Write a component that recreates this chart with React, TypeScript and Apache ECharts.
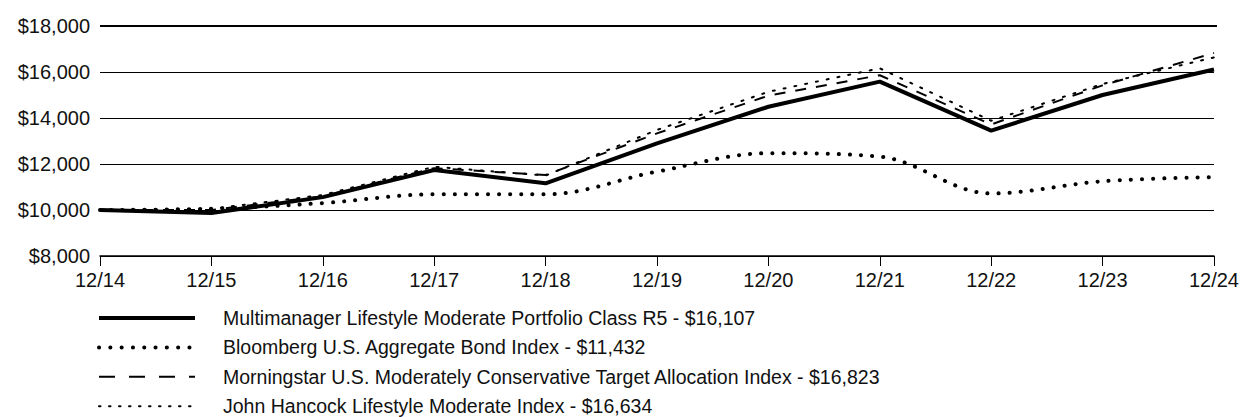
import React, { useEffect, useRef } from "react";
import * as echarts from "echarts";

const categories = ["12/14", "12/15", "12/16", "12/17", "12/18", "12/19", "12/20", "12/21", "12/22", "12/23", "12/24"];
const fundValues = [10000, 9870, 10560, 11740, 11160, 12900, 14490, 15580, 13450, 15000, 16107];
const bondValues = [10000, 10060, 10300, 10680, 10680, 11670, 12470, 12320, 10720, 11250, 11432];
const morningstarValues = [10000, 10000, 10600, 11820, 11520, 13330, 14970, 15860, 13720, 15420, 16823];
const hancockValues = [10000, 10050, 10650, 11880, 11500, 13480, 15140, 16160, 13880, 15480, 16634];
const seriesNames = [
  "Multimanager Lifestyle Moderate Portfolio Class R5 - $16,107",
  "Bloomberg U.S. Aggregate Bond Index - $11,432",
  "Morningstar U.S. Moderately Conservative Target Allocation Index - $16,823",
  "John Hancock Lifestyle Moderate Index - $16,634",
];

const FONT = "'Liberation Sans', Arial, sans-serif";

const lineStyles: any[] = [
  { color: "#000", width: 4, type: "solid" },
  { color: "#000", width: 4, type: [0.1, 11], cap: "round" },
  { color: "#000", width: 2, type: [11, 10] },
  { color: "#000", width: 2, type: [2, 9], cap: "round" },
];
const legendDash: any[] = [null, [0.1, 11.2], [16, 14], [1.5, 8.5]];

export default function App() {
  const ref = useRef<HTMLDivElement>(null);
  useEffect(() => {
    if (!ref.current) return;
    const chart = echarts.init(ref.current, undefined, { renderer: "svg" });
    const data = [fundValues, bondValues, morningstarValues, hancockValues];
    const order = [3, 2, 1, 0];
    const legendGraphics: any[] = [];
    seriesNames.forEach((name, i) => {
      const y = 310 + i * 29.4;
      const ls = lineStyles[i];
      legendGraphics.push({
        type: "line",
        shape: { x1: 91, y1: y, x2: 187, y2: y },
        style: {
          stroke: "#000",
          lineWidth: ls.width,
          lineDash: legendDash[i],
          lineCap: ls.cap || "butt",
        },
      });
      legendGraphics.push({
        type: "text",
        x: 215,
        y: y,
        style: { text: name, font: `19.5px ${FONT}`, fill: "#111", textVerticalAlign: "middle" },
      });
    });
    chart.setOption({
      animation: false,
      grid: { left: 92, right: 25, top: 18, bottom: 161, containLabel: false },
      xAxis: {
        type: "category",
        data: categories,
        boundaryGap: false,
        axisLine: { lineStyle: { color: "#000", width: 1.5 } },
        axisTick: { show: true, length: 10, lineStyle: { color: "#000", width: 1 } },
        axisLabel: { color: "#111", fontSize: 20, fontFamily: FONT, margin: 14 },
        splitLine: { show: false },
      },
      yAxis: {
        type: "value",
        min: 8000,
        max: 18000,
        interval: 2000,
        axisLine: { show: false },
        axisTick: { show: false },
        axisLabel: {
          color: "#111",
          fontSize: 20,
          fontFamily: FONT,
          margin: 10,
          formatter: (v: number) => "$" + v.toLocaleString("en-US"),
        },
        splitLine: { lineStyle: { color: "#000", width: 1 } },
      },
      series: order.map((i) => ({
        name: seriesNames[i],
        type: "line",
        data: data[i],
        symbol: "none",
        smooth: i === 1 ? 0.35 : false,
        lineStyle: lineStyles[i],
        z: 10 - i,
      })),
      graphic: [
        {
          type: "line",
          shape: { x1: 92, y1: 18, x2: 1209, y2: 18 },
          style: { stroke: "#000", lineWidth: 2 },
        },
        ...legendGraphics,
      ],
    });
    return () => chart.dispose();
  }, []);
  return <div ref={ref} style={{ width: 1234, height: 409 }} />;
}
